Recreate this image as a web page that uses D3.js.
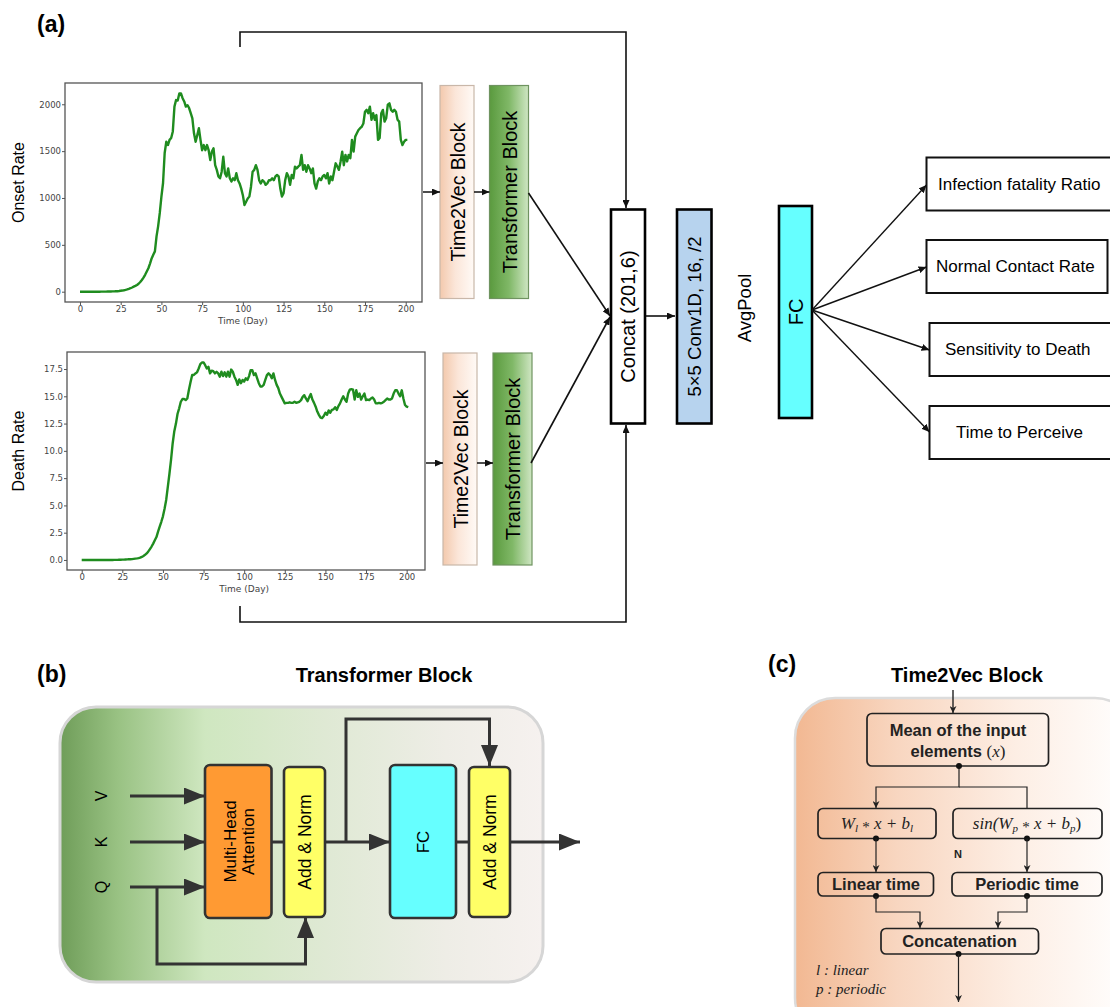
<!DOCTYPE html>
<html>
<head>
<meta charset="utf-8">
<script src="https://cdn.jsdelivr.net/npm/d3@7"></script>
<style>
  body { margin: 0; background: #fff; }
  svg { display: block; }
</style>
</head>
<body>
<svg id="fig" width="1110" height="1007"></svg>
<script>
// ---------- data ----------
// daily onset rate, day 0 .. 201
const onsetRate = [
  0,0,0,0,0,0,0,0,0,0, 0,0,0,1,1,1,1,2,2,2, 3,3,4,5,7,
  10,12,15,19,24, 30,37,45,54,62, 72,85,103,125,150,
  180,215,250,300,355, 395,430,590,700,840,
  1015,1160,1480,1600,1565, 1620,1640,1710,1975,2045,
  2040,2115,2115,2065,2030, 1975,1990,1960,1905,1850,
  1690,1600,1670,1745,1620, 1510,1565,1510,1565,1510,
  1405,1495,1530,1350,1300, 1230,1210,1280,1440,1265,
  1230,1315,1210,1175,1210, 1190,1265,1190,1155,1100,
  1030,925,960,995,1015, 1120,1280,1300,1350,1300,
  1190,1155,1190,1175,1140, 1155,1190,1190,1210,1190,
  1230,1245,1230,1100,1015, 1050,1190,1265,1230,1140,
  1245,1210,1335,1315,1335, 1350,1460,1300,1350,1280,
  1350,1315,1265,1315,1155, 1100,1175,1210,1190,1230,
  1245,1210,1265,1155,1230, 1190,1280,1370,1335,1300,
  1390,1495,1350,1460,1390, 1460,1425,1620,1495,1655,
  1690,1725,1745,1760,1795, 1920,1940,1905,1975,1835,
  1905,1835,1885,1620,1640, 1905,1940,1815,1850,1995,
  2010,1940,1920,1940,1920, 1835,1815,1620,1565,1600,
  1620,1620
];

// daily death rate, day 0 .. 201
const deathRate = [
  0,0,0,0,0,0,0,0,0,0, 0,0,0,0,0,0,0,0,0,0,
  0.01,0.01,0.01,0.02,0.02, 0.03,0.03,0.04,0.05,0.06,
  0.07,0.08,0.1,0.12,0.14, 0.17,0.21,0.28,0.37,0.47,
  0.6,0.78,1.0,1.23,1.5, 1.8,2.1,2.6,3.05,3.5,
  4.0,4.7,5.5,6.7,7.9, 9.2,10.7,11.8,12.5,13.4,
  13.9,14.5,14.75,14.75,14.65, 14.8,15.6,16.3,16.95,16.95,
  17.1,17.2,17.55,17.95,18.1, 18.1,17.85,17.55,17.7,17.1,
  17.35,17.3,17.1,17.25,17.1, 16.8,17.25,16.85,17.2,16.8,
  17.25,16.8,17.45,17.25,16.8, 16.5,16.05,16.55,16.2,16.5,
  16.35,16.65,16.5,16.85,17.4, 17.4,16.95,17.1,16.65,16.2,
  15.9,15.9,16.05,16.5,16.95, 17.1,16.95,16.65,17.1,16.5,
  16.05,15.75,15.25,14.95,14.65, 14.35,14.4,14.4,14.45,14.4,
  14.4,14.5,14.4,14.45,14.5, 14.65,14.95,15.1,14.8,14.55,
  14.9,15.2,14.7,14.4,14.05, 13.6,13.3,13.05,13.0,13.2,
  13.5,13.3,13.7,13.5,13.75, 13.8,14.0,13.75,14.1,14.35,
  14.7,15.0,14.7,14.5,15.25, 15.6,15.65,15.6,14.7,15.55,
  14.95,15.25,14.7,15.0,15.25, 14.65,14.7,14.65,14.8,14.9,
  14.7,14.35,14.35,14.4,14.35, 14.4,14.5,14.65,14.8,14.7,
  14.7,14.8,15.25,15.55,15.55, 15.25,15.0,15.55,14.8,14.2,
  14.05,14.0
];

const dayTicks = [0, 25, 50, 75, 100, 125, 150, 175, 200];
const onsetTicks = [0, 500, 1000, 1500, 2000];
const deathTicks = [0, 2.5, 5, 7.5, 10, 12.5, 15, 17.5];
const outputLabels = ["Infection fatality Ratio", "Normal Contact Rate", "Sensitivity to Death", "Time to Perceive"];

// ---------- setup ----------
const svg = d3.select("#fig");
const SANS = "'Liberation Sans', Arial, Helvetica, sans-serif";
const MPL = "'DejaVu Sans', sans-serif";
const SERIF = "'Liberation Serif', 'Times New Roman', serif";
const defs = svg.append("defs");

function grad(id, stops, x2 = "100%", y2 = "0%") {
  const g = defs.append("linearGradient").attr("id", id)
    .attr("x1", "0%").attr("y1", "0%").attr("x2", x2).attr("y2", y2);
  stops.forEach(([o, c]) => g.append("stop").attr("offset", o).attr("stop-color", c));
}
grad("gT2V", [["0%", "#f3c9ad"], ["45%", "#fbe6d9"], ["100%", "#fffaf6"]]);
grad("gTrans", [["0%", "#5a9a3e"], ["50%", "#80b867"], ["100%", "#cfe6c3"]]);
grad("gPanelB", [["0%", "#6f9d59"], ["12%", "#99c283"], ["30%", "#cfe7c0"], ["55%", "#dfe9d4"], ["80%", "#eeede6"], ["100%", "#f6f1ef"]]);
grad("gPanelC", [["0%", "#f2b892"], ["30%", "#f8d6c0"], ["65%", "#fdeee4"], ["100%", "#ffffff"]]);

function marker(id, path, w, h, color) {
  defs.append("marker").attr("id", id)
    .attr("viewBox", `${-w} ${-h / 2} ${w} ${h}`)
    .attr("refX", 0).attr("refY", 0)
    .attr("markerUnits", "userSpaceOnUse")
    .attr("markerWidth", w).attr("markerHeight", h)
    .attr("orient", "auto")
    .append("path").attr("d", path).attr("fill", color);
}
marker("arrA", "M0,0 L-8,-3.5 L-8,3.5 Z", 8, 7, "#111");
marker("arrB", "M0,0 L-21,-8.5 L-21,8.5 Z", 21, 17, "#333");
marker("arrC", "M0,0 L-7,-3.5 L-5,0 L-7,3.5 Z", 7, 7, "#222");

function poly(pts, color, width, mk) {
  const p = svg.append("path")
    .attr("d", d3.line()(pts))
    .attr("fill", "none").attr("stroke", color).attr("stroke-width", width)
    .attr("stroke-linejoin", "miter");
  if (mk) p.attr("marker-end", `url(#${mk})`);
  return p;
}

function vtext(cx, cy, txt, size, opts = {}) {
  return svg.append("text")
    .attr("transform", `translate(${cx},${cy}) rotate(-90)`)
    .attr("text-anchor", "middle").attr("dominant-baseline", "central")
    .attr("font-family", opts.family || SANS).attr("font-size", size)
    .attr("font-weight", opts.weight || "normal")
    .attr("fill", opts.fill || "#000")
    .text(txt);
}

function label(x, y, txt, size) {
  svg.append("text").attr("x", x).attr("y", y)
    .attr("font-family", SANS).attr("font-size", size).attr("font-weight", "bold")
    .text(txt);
}

// ---------- (a) time-series plots ----------
function drawPlot(frame, xDom, yDom, values, yTicks, yFmt, yLabel) {
  const x = d3.scaleLinear().domain(xDom).range([frame.x0, frame.x1]);
  const y = d3.scaleLinear().domain(yDom).range([frame.y1, frame.y0]);
  const g = svg.append("g");

  const xa = g.append("g").attr("transform", `translate(0,${frame.y1})`)
    .call(d3.axisBottom(x).tickValues(dayTicks).tickSize(3).tickPadding(1).tickFormat(d3.format("d")));
  const ya = g.append("g").attr("transform", `translate(${frame.x0},0)`)
    .call(d3.axisLeft(y).tickValues(yTicks).tickSize(3).tickPadding(1).tickFormat(yFmt));
  [xa, ya].forEach(a => {
    a.select(".domain").remove();
    a.selectAll(".tick line").attr("stroke", "#555").attr("stroke-width", 1);
    a.selectAll(".tick text").attr("font-family", MPL).attr("font-size", 8.5).attr("fill", "#444");
  });

  g.append("path").datum(values)
    .attr("d", d3.line().x((d, i) => x(i)).y(d => y(d)))
    .attr("fill", "none").attr("stroke", "#1f8c1f").attr("stroke-width", 2.4)
    .attr("stroke-linejoin", "round");

  g.append("rect").attr("x", frame.x0).attr("y", frame.y0)
    .attr("width", frame.x1 - frame.x0).attr("height", frame.y1 - frame.y0)
    .attr("fill", "none").attr("stroke", "#555").attr("stroke-width", 1.3);

  g.append("text").attr("x", x(100)).attr("y", frame.y1 + 22)
    .attr("text-anchor", "middle").attr("font-family", MPL).attr("font-size", 9).attr("fill", "#444")
    .text("Time (Day)");
  vtext(18, (frame.y0 + frame.y1) / 2 - 10, yLabel, 16);
}

drawPlot({ x0: 65, x1: 422, y0: 83, y1: 302 }, [-9.2, 210], [-110, 2227],
  onsetRate, onsetTicks, d3.format("d"), "Onset Rate");
drawPlot({ x0: 67, x1: 425, y0: 352, y1: 570 }, [-9.05, 211.3], [-0.92, 19.06],
  deathRate, deathTicks, d3.format(".1f"), "Death Rate");

label(37, 32, "(a)", 23);

// ---------- (a) network blocks ----------
function block(x, y, w, h, fill, stroke, sw) {
  return svg.append("rect").attr("x", x).attr("y", y).attr("width", w).attr("height", h)
    .attr("fill", fill).attr("stroke", stroke).attr("stroke-width", sw);
}

// encoder branches
const branches = [
  { t2v: [440, 85.5], tr: [489.5, 85.5], h: 213, from: 423, ay: 192 },
  { t2v: [443, 353], tr: [493, 353], h: 212, from: 426, ay: 463 }
];
branches.forEach(b => {
  block(b.t2v[0], b.t2v[1], 34, b.h, "url(#gT2V)", "#c9b7a9", 1.2);
  block(b.tr[0], b.tr[1], 39, b.h, "url(#gTrans)", "#6f9360", 1.2);
  vtext(b.t2v[0] + 17.5, b.t2v[1] + b.h / 2, "Time2Vec Block", 19.5);
  vtext(b.tr[0] + 20, b.tr[1] + b.h / 2, "Transformer Block", 20);
  poly([[b.from, b.ay], [b.t2v[0], b.ay]], "#111", 1.5, "arrA");
  poly([[b.t2v[0] + 34, b.ay], [b.tr[0], b.ay]], "#111", 1.5, "arrA");
});

// merge into concat
poly([[528.5, 193], [610, 316]], "#111", 1.6, "arrA");
poly([[531, 463], [610, 317]], "#111", 1.6, "arrA");
poly([[240, 47], [240, 32], [626, 32], [626, 208]], "#111", 1.6, "arrA");
poly([[240, 606], [240, 622], [626, 622], [626, 425]], "#111", 1.6, "arrA");

block(611, 209.5, 34, 214, "#fff", "#000", 2.6);
vtext(628, 316.5, "Concat (201,6)", 20);
poly([[646, 316], [675, 316]], "#111", 1.6, "arrA");
block(677, 209.5, 34.5, 214, "#b7d3ee", "#000", 2.6);
vtext(694.5, 316.5, "5\u00d75 Conv1D, 16, /2", 18.5);
vtext(744, 308, "AvgPool", 18.5);
block(779, 206, 33, 212, "#66ffff", "#000", 2.6);
vtext(795.5, 312, "FC", 20);

// outputs
const outBoxes = [
  { y: 157.5, h: 53, x: 926.5, w: 190, tx: 938, ay: 185 },
  { y: 240, h: 53, x: 926.5, w: 181, tx: 936, ay: 267 },
  { y: 323, h: 53, x: 929.5, w: 190, tx: 945, ay: 350 },
  { y: 406, h: 53, x: 929.5, w: 190, tx: 956, ay: 432 }
];
outBoxes.forEach((b, i) => {
  block(b.x, b.y, b.w, b.h, "#fff", "#111", 2);
  svg.append("text").attr("x", b.tx).attr("y", b.y + b.h / 2)
    .attr("dominant-baseline", "central")
    .attr("font-family", SANS).attr("font-size", 17).text(outputLabels[i]);
  poly([[812, 310], [b.x, b.ay]], "#111", 1.4, "arrA");
});

// ---------- (b) Transformer Block ----------
label(37, 682, "(b)", 23);
svg.append("text").attr("x", 384).attr("y", 682).attr("text-anchor", "middle")
  .attr("font-family", SANS).attr("font-size", 20).attr("font-weight", "bold")
  .text("Transformer Block");

svg.append("rect").attr("x", 60).attr("y", 707).attr("width", 483).attr("height", 275)
  .attr("rx", 36).attr("fill", "url(#gPanelB)").attr("stroke", "#d6d6d6").attr("stroke-width", 3);

// inputs
[["V", 796], ["K", 842], ["Q", 887]].forEach(([t, yy]) => {
  vtext(101, yy, t, 16);
  poly([[130, yy], [205, yy]], "#333", 3, "arrB");
});
poly([[157, 887], [157, 964], [305.5, 964], [305.5, 917]], "#333", 3, "arrB");

function bbox(x, y, w, h, fill) {
  svg.append("rect").attr("x", x).attr("y", y).attr("width", w).attr("height", h)
    .attr("rx", 5).attr("fill", fill).attr("stroke", "#333").attr("stroke-width", 2.6);
}
poly([[271, 842], [285, 842]], "#333", 3);
poly([[325, 842], [390, 842]], "#333", 3, "arrB");
poly([[346, 842], [346, 719], [489.5, 719], [489.5, 766]], "#333", 3, "arrB");
poly([[456, 842], [470, 842]], "#333", 3);
poly([[510, 842], [580, 842]], "#333", 3, "arrB");

bbox(205, 765, 66.5, 153, "#ff9a33");
svg.append("text")
  .attr("transform", "translate(239,841.5) rotate(-90)")
  .attr("text-anchor", "middle").attr("font-family", SANS).attr("font-size", 17)
  .call(t => {
    t.append("tspan").attr("x", 0).attr("dy", "-0.15em").text("Multi-Head");
    t.append("tspan").attr("x", 0).attr("dy", "1.05em").text("Attention");
  });
bbox(284, 767, 41, 150, "#ffff66");
vtext(305, 842, "Add & Norm", 17.5);
bbox(390, 765, 66, 153, "#66ffff");
vtext(423, 842, "FC", 17);
bbox(469, 767, 41, 150, "#ffff66");
vtext(490, 842, "Add & Norm", 17.5);

// ---------- (c) Time2Vec Block ----------
label(768, 672, "(c)", 23);
svg.append("text").attr("x", 967).attr("y", 682).attr("text-anchor", "middle")
  .attr("font-family", SANS).attr("font-size", 20).attr("font-weight", "bold")
  .text("Time2Vec Block");

svg.append("rect").attr("x", 795).attr("y", 698).attr("width", 340).attr("height", 340)
  .attr("rx", 40).attr("fill", "url(#gPanelC)").attr("stroke", "#dcdcdc").attr("stroke-width", 2.5);

function cbox(x, y, w, h) {
  svg.append("rect").attr("x", x).attr("y", y).attr("width", w).attr("height", h)
    .attr("rx", 5).attr("fill", "none").attr("stroke", "#222").attr("stroke-width", 1.7);
}
function dot(x, y) {
  svg.append("circle").attr("cx", x).attr("cy", y).attr("r", 3).attr("fill", "#111");
}
// text made of bold sans runs and serif math runs (italic / subscript / shifted)
function ctext(x, y, parts) {
  const t = svg.append("text").attr("x", x).attr("y", y).attr("text-anchor", "middle").attr("fill", "#222");
  parts.forEach(p => {
    const s = t.append("tspan").text(p.t)
      .attr("font-family", p.serif ? SERIF : SANS)
      .attr("font-size", p.size || (p.serif ? 17 : 16.5))
      .attr("font-weight", p.serif ? "normal" : "bold")
      .attr("font-style", p.it ? "italic" : "normal");
    if (p.dy) s.attr("dy", p.dy);
  });
  return t;
}

poly([[953, 690], [953, 713]], "#222", 1.4, "arrC");
cbox(867, 713.5, 181.5, 52.5);
ctext(958, 736, [{ t: "Mean of the input" }]);
ctext(958, 757, [{ t: "elements " }, { t: "(", serif: 1 }, { t: "x", serif: 1, it: 1 }, { t: ")", serif: 1 }]);

poly([[959, 766], [959, 787], [876, 787], [876, 808]], "#222", 1.2, "arrC");
poly([[959, 787], [1027, 787], [1027, 808]], "#222", 1.2);
dot(959, 766);

cbox(818, 808.5, 118, 30);
ctext(877, 829, [
  { t: "W", serif: 1, it: 1 }, { t: "l", serif: 1, it: 1, size: 11, dy: "3" },
  { t: " ", serif: 1, dy: "-3" }, { t: "*", serif: 1, size: 15, dy: "3" },
  { t: " x + b", serif: 1, it: 1, dy: "-3" }, { t: "l", serif: 1, it: 1, size: 11, dy: "3" }
]);
cbox(953, 808.5, 149, 30);
ctext(1027, 829, [
  { t: "sin(W", serif: 1, it: 1 }, { t: "p", serif: 1, it: 1, size: 11, dy: "3" },
  { t: " ", serif: 1, dy: "-3" }, { t: "*", serif: 1, size: 15, dy: "3" },
  { t: " x + b", serif: 1, it: 1, dy: "-3" }, { t: "p", serif: 1, it: 1, size: 11, dy: "3" },
  { t: ")", serif: 1, dy: "-3" }
]);

dot(876, 838.5); dot(1027, 838.5);
poly([[876, 838.5], [876, 872]], "#222", 1.2, "arrC");
poly([[1027, 838.5], [1027, 872]], "#222", 1.2, "arrC");
svg.append("text").attr("x", 958).attr("y", 858).attr("text-anchor", "middle")
  .attr("font-family", SANS).attr("font-size", 11).attr("font-weight", "bold").attr("fill", "#222").text("N");

cbox(818, 872.5, 115.5, 23.5);
ctext(876, 890, [{ t: "Linear time" }]);
cbox(952, 872.5, 150, 23.5);
ctext(1027, 890, [{ t: "Periodic time" }]);

dot(876, 896); dot(1027, 896);
poly([[876, 896], [876, 912], [920, 912], [920, 928]], "#222", 1.2, "arrC");
poly([[1027, 896], [1027, 912], [998, 912], [998, 928]], "#222", 1.2, "arrC");

cbox(881, 928.5, 157.5, 25.5);
ctext(959.5, 947, [{ t: "Concatenation" }]);
dot(958.5, 954);
poly([[958.5, 954], [958.5, 1002]], "#222", 1.2, "arrC");

svg.append("text").attr("x", 816).attr("y", 975).attr("font-family", SERIF)
  .attr("font-size", 15).attr("font-style", "italic").attr("fill", "#222").text("l : linear");
svg.append("text").attr("x", 816).attr("y", 994).attr("font-family", SERIF)
  .attr("font-size", 15).attr("font-style", "italic").attr("fill", "#222").text("p : periodic");
</script>
</body>
</html>
